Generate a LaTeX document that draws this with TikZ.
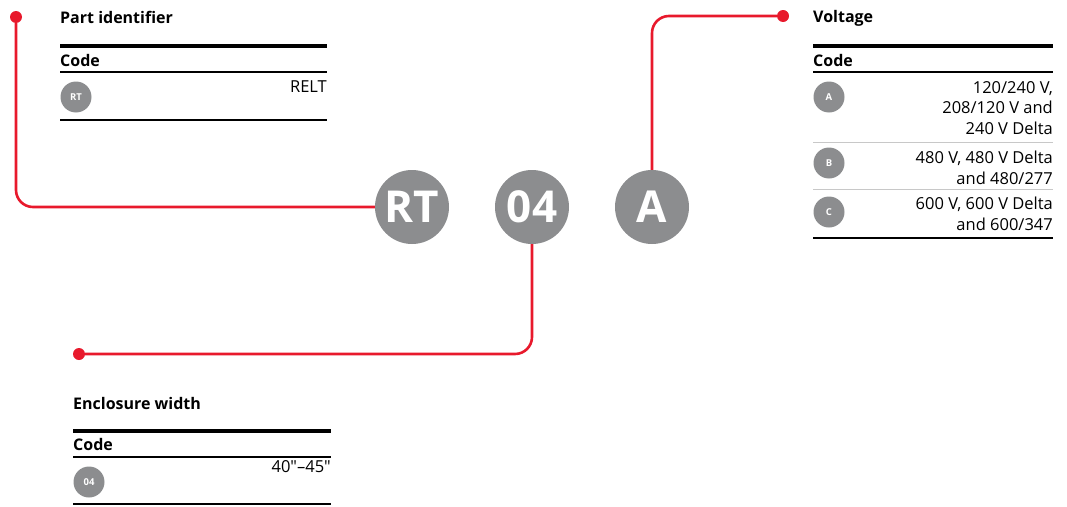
\documentclass[tikz,border=0pt]{standalone}
\usepackage{fontspec}
\setmainfont[Ligatures=TeXOff]{Open Sans}
\definecolor{abbred}{RGB}{232,25,44}
\definecolor{codegray}{RGB}{140,141,143}
\definecolor{seprule}{RGB}{200,200,200}
\begin{document}
\begin{tikzpicture}[x=1pt,y=-1pt,
  bigcode/.style={circle,fill=codegray,minimum size=74pt,inner sep=0pt,text=white,font=\fontsize{44}{44}\selectfont\bfseries},
  smallcode/.style={circle,fill=codegray,minimum size=31pt,inner sep=0pt,text=white,font=\fontsize{9.5}{9.5}\selectfont\bfseries},
  reddot/.style={circle,fill=abbred,minimum size=12pt,inner sep=0pt},
  redline/.style={draw=abbred,line width=2.6pt,rounded corners=17pt},
  title/.style={anchor=west,inner sep=0pt,font=\fontsize{16}{16}\selectfont\bfseries},
  codehead/.style={anchor=west,inner sep=0pt,font=\fontsize{16}{16}\selectfont\bfseries},
  val/.style={anchor=east,inner sep=0pt,align=right,font=\fontsize{16.5}{20.8}\selectfont},
  thickrule/.style={line width=4pt},
  midrule/.style={line width=2.2pt},
  thinrule/.style={draw=seprule,line width=0.8pt}
]
\useasboundingbox (0,0) rectangle (1067,506);
% big code circles
\node[bigcode] (rt) at (412,207) {RT};
\node[bigcode] (c04) at (532,207) {04};
\node[bigcode] (cA) at (652,207) {A};
% red dots
\node[reddot] (dotP) at (16,17) {};
\node[reddot] (dotV) at (783,16) {};
\node[reddot] (dotE) at (79,354) {};
% connectors
\draw[redline] (dotP) |- (rt.west);
\draw[redline] (cA.north) |- (dotV);
\draw[redline] (c04.south) |- (dotE);

% Part identifier table
\node[title] (tP) at (60,17) {Part identifier};
\draw[thickrule] (60,46) -- (327,46);
\node[codehead] (hP) at (60,60) {Code};
\draw[midrule] (60,72) -- (327,72);
\node[smallcode] (sRT) at (76,97) {RT};
\node[val] (vRT) at (327,87) {RELT};
\draw[midrule] (60,120) -- (327,120);

% Voltage table
\node[title] (tV) at (813,18) {Voltage};
\draw[thickrule] (813,46) -- (1053,46);
\node[codehead] (hV) at (813,60) {Code};
\draw[midrule] (813,72) -- (1053,72);
\node[smallcode] (sA) at (829,97) {A};
\node[val,anchor=north east] (vA) at (1053,81) {120/240 V,\\208/120 V and\\240 V Delta};
\draw[thinrule] (813,142) -- (1053,142);
\node[smallcode] (sB) at (829,163) {B};
\node[val,anchor=north east] (vB) at (1053,150.5) {480 V, 480 V Delta\\and 480/277};
\draw[thinrule] (813,189) -- (1053,189);
\node[smallcode] (sC) at (829,212) {C};
\node[val,anchor=north east] (vC) at (1053,196.5) {600 V, 600 V Delta\\and 600/347};
\draw[midrule] (813,238) -- (1053,238);

% Enclosure width table
\node[title] (tE) at (73,403) {Enclosure width};
\draw[thickrule] (73,431) -- (331,431);
\node[codehead] (hE) at (73,444) {Code};
\draw[midrule] (73,457) -- (331,457);
\node[smallcode] (s04) at (89,482) {04};
\node[val] (v04) at (331,467) {40"–45"};
\draw[midrule] (73,504) -- (331,504);
\end{tikzpicture}
\end{document}
